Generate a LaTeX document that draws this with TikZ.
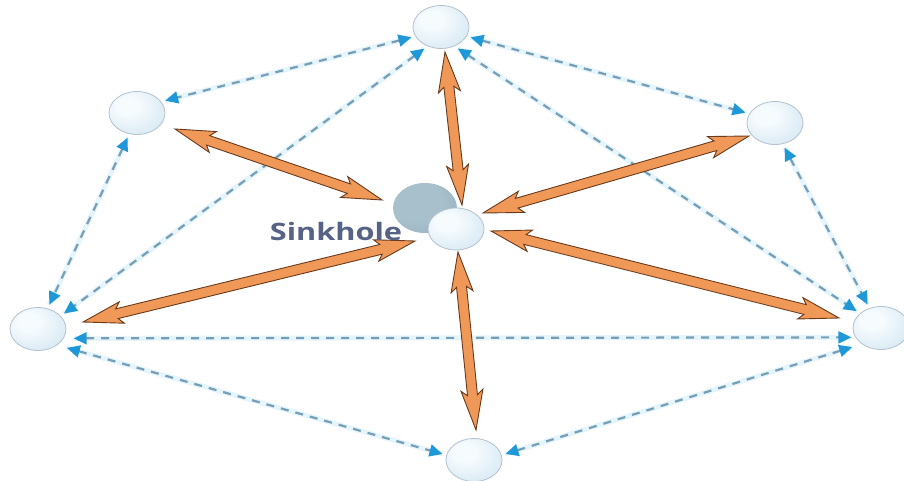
\documentclass[tikz,border=0pt]{standalone}
\usepackage{fontspec}
\usepackage{graphicx}
\newfontfamily\labelfont{Open Sans}
\usetikzlibrary{arrows.meta,calc,shapes.geometric}

\definecolor{dashcol}{RGB}{118,158,182}
\definecolor{headcol}{RGB}{30,152,215}
\definecolor{glowcol}{RGB}{230,245,252}
\definecolor{ballin}{RGB}{246,251,254}
\definecolor{ballmid}{RGB}{218,234,244}
\definecolor{ballout}{RGB}{176,203,220}
\definecolor{ballline}{RGB}{180,194,205}
\definecolor{sinkin}{RGB}{168,192,204}
\definecolor{sinkout}{RGB}{136,164,178}
\definecolor{orfill}{RGB}{240,152,88}
\definecolor{orline}{RGB}{105,58,28}
\definecolor{txtcol}{RGB}{86,98,134}

\pgfdeclareradialshading{ballshade}{\pgfpoint{-10bp}{10bp}}{color(0bp)=(ballin); color(10bp)=(ballin); color(32bp)=(ballmid); color(52bp)=(ballout); color(66bp)=(ballout)}
\pgfdeclareradialshading{sinkshade}{\pgfpoint{-10bp}{10bp}}{color(0bp)=(sinkin); color(20bp)=(sinkin); color(55bp)=(sinkout); color(66bp)=(sinkout)}

\newcommand\fatarrow[2]{%
  \draw[fatarr] let \p1=(#1), \p2=(#2),
     \n1={atan2(\y2-\y1,\x2-\x1)}, \n2={veclen(\x2-\x1,\y2-\y1)} in
     (\p1) -- ($(\p1)+(\n1:40pt)+(\n1+90:11pt)$) -- ($(\p1)+(\n1:35pt)+(\n1+90:5pt)$)
     -- ($(\p1)+(\n1:\n2-35pt)+(\n1+90:5pt)$) -- ($(\p1)+(\n1:\n2-40pt)+(\n1+90:11pt)$)
     -- (\p2)
     -- ($(\p1)+(\n1:\n2-40pt)+(\n1-90:11pt)$) -- ($(\p1)+(\n1:\n2-35pt)+(\n1-90:5pt)$)
     -- ($(\p1)+(\n1:35pt)+(\n1-90:5pt)$) -- ($(\p1)+(\n1:40pt)+(\n1-90:11pt)$) -- cycle;}

\tikzset{
  ball/.style={ellipse, minimum width=56pt, minimum height=43pt, inner sep=0pt,
    draw=ballline, line width=0.8pt, shading=ballshade},
  sink/.style={ellipse, minimum width=64pt, minimum height=50pt, inner sep=0pt,
    shading=sinkshade},
  dashlink/.style={draw=dashcol, line width=2.2pt, dash pattern=on 8pt off 7pt,
    {Triangle[length=13pt,width=12pt,color=headcol]}-{Triangle[length=13pt,width=12pt,color=headcol]},
    shorten <=4pt, shorten >=4pt,
    preaction={draw=glowcol, line width=5pt, solid, arrows=-}},
  fatarr/.style={fill=orfill, draw=orline, line width=0.9pt, line join=miter},
  sinklabel/.style={text=txtcol, font=\labelfont\bfseries\fontsize{24}{24}\selectfont, inner sep=0pt}
}

\begin{document}
\begin{tikzpicture}[x=1pt,y=-1pt]
\useasboundingbox (0,0) rectangle (904,481);
\fill[white] (0,0) rectangle (904,481);

% nodes
\node[ball] (T) at (441,27) {};
\node[ball] (UL) at (137,113) {};
\node[ball] (UR) at (775,123) {};
\node[ball] (L) at (38,329) {};
\node[ball] (R) at (881,328) {};
\node[ball] (B) at (474,460) {};
\node[sink] (S) at (425,208) {};
\node[ball, minimum width=56pt, minimum height=42pt] (C) at (456,229) {};

% dashed links
\draw[dashlink] (T.200) -- (UL.25);
\draw[dashlink] (T.-20) -- (UR.160);
\draw[dashlink] (T.235) -- (L.30);
\draw[dashlink] (T.-55) -- (R.145);
\draw[dashlink] (UL.250) -- (L.65);
\draw[dashlink] (UR.-70) -- (R.120);
\draw[dashlink, shorten <=10pt] (L.-20) -- (R.200);
\draw[dashlink, shorten <=10pt] (L.-40) -- (B.170);
\draw[dashlink, shorten <=10pt] (R.220) -- (B.10);

% fat orange arrows
\fatarrow{$(T)+(4,25)$}{$(C)+(6,-24)$}
\fatarrow{$(UL)+(38,16)$}{$(S)+(-43,-8)$}
\fatarrow{$(UR)+(-26,13)$}{$(C)+(27,-16)$}
\fatarrow{$(L)+(45,-7)$}{$(S)+(-10,33)$}
\fatarrow{$(R)+(-42,-10)$}{$(C)+(35,2)$}
\fatarrow{$(C)+(2,23)$}{$(B)+(2,-30)$}

% label
\node[sinklabel] (lab) at (336,231) {\scalebox{1.28}[1]{Sinkhole}};
\end{tikzpicture}
\end{document}
